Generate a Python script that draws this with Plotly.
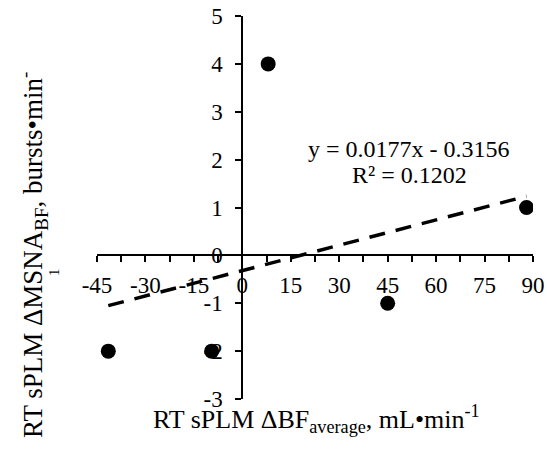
import numpy as np
import plotly.graph_objects as go

# Data
x_vals = [-41.5, -9.5, 8.0, 45.0, 88.0]
y_vals = [-2, -2, 4, -1, 1]
x_ticks = [-45, -30, -15, 0, 15, 30, 45, 60, 75, 90]
y_ticks = [-3, -2, -1, 0, 1, 2, 3, 4, 5]
eq_lines = ["y = 0.0177x - 0.3156", "R² = 0.1202"]

W, H = 547, 462
L, R, T, B = 97, 14, 16, 63
pw, ph = W - L - R, H - T - B

def px(xp):
    return (xp - L) / pw

def py(yp):
    return (H - B - yp) / ph

FONT = "Liberation Serif"
TICK = 23

slope, intercept = np.polyfit(x_vals, y_vals, 1)
xl = np.array([min(x_vals), max(x_vals)])
yl = slope * xl + intercept

fig = go.Figure()
fig.add_trace(go.Scatter(x=xl, y=yl, mode="lines",
                         line=dict(color="black", width=3.5, dash="16px,11px"),
                         hoverinfo="skip", showlegend=False))
fig.add_trace(go.Scatter(x=x_vals, y=y_vals, mode="markers",
                         marker=dict(color="black", size=15),
                         showlegend=False))

xr = [x_ticks[0], x_ticks[-1]]
yr = [y_ticks[0], y_ticks[-1]]

fig.update_layout(
    width=W, height=H,
    margin=dict(l=L, r=R, t=T, b=B, autoexpand=False),
    paper_bgcolor="white", plot_bgcolor="white",
    font=dict(family=FONT, size=TICK, color="black"),
)
fig.update_xaxes(range=xr, tickvals=x_ticks, ticktext=[str(v) for v in x_ticks],
                 anchor="free", position=(0 - yr[0]) / (yr[1] - yr[0]),
                 showline=True, linecolor="black", linewidth=2,
                 ticks="outside", ticklen=6, tickwidth=2, tickcolor="black",
                 ticklabelstandoff=3,
                 showgrid=False, zeroline=False,
                 tickfont_family=FONT, tickfont_size=TICK, tickfont_color="black")
fig.update_yaxes(range=yr, tickvals=y_ticks, ticktext=[str(v) for v in y_ticks],
                 anchor="free", position=(0 - xr[0]) / (xr[1] - xr[0]),
                 showline=True, linecolor="black", linewidth=2,
                 ticks="outside", ticklen=6, tickwidth=2, tickcolor="black",
                 ticklabelstandoff=8,
                 showgrid=False, zeroline=False,
                 tickfont_family=FONT, tickfont_size=TICK, tickfont_color="black")
fig.update_xaxes(minor=dict(dtick=7.5, tick0=0, ticks="outside", ticklen=6,
                            tickwidth=2, tickcolor="black", showgrid=False))

for txt, yp in zip(eq_lines, [149, 175]):
    fig.add_annotation(text=txt, x=px(409), y=py(yp), xref="paper", yref="paper",
                       showarrow=False, font=dict(family=FONT, size=24, color="black"),
                       xanchor="center", yanchor="middle")
fig.add_annotation(text="RT sPLM ΔBF<sub>average</sub>, mL•min<sup>-1</sup>",
                   x=px(316), y=py(419), xref="paper", yref="paper",
                   showarrow=False, font=dict(family=FONT, size=26, color="black"),
                   xanchor="center", yanchor="middle")
fig.add_annotation(text="RT sPLM ΔMSNA<sub>BF</sub>, bursts•min<sup>-</sup>",
                   x=px(33), y=py(255), xref="paper", yref="paper", textangle=-90,
                   showarrow=False, font=dict(family=FONT, size=27, color="black"),
                   xanchor="center", yanchor="middle")
fig.add_annotation(text="1",
                   x=px(54), y=py(272), xref="paper", yref="paper", textangle=-90,
                   showarrow=False, font=dict(family=FONT, size=15, color="black"),
                   xanchor="center", yanchor="middle")

fig.write_html("out.html")
